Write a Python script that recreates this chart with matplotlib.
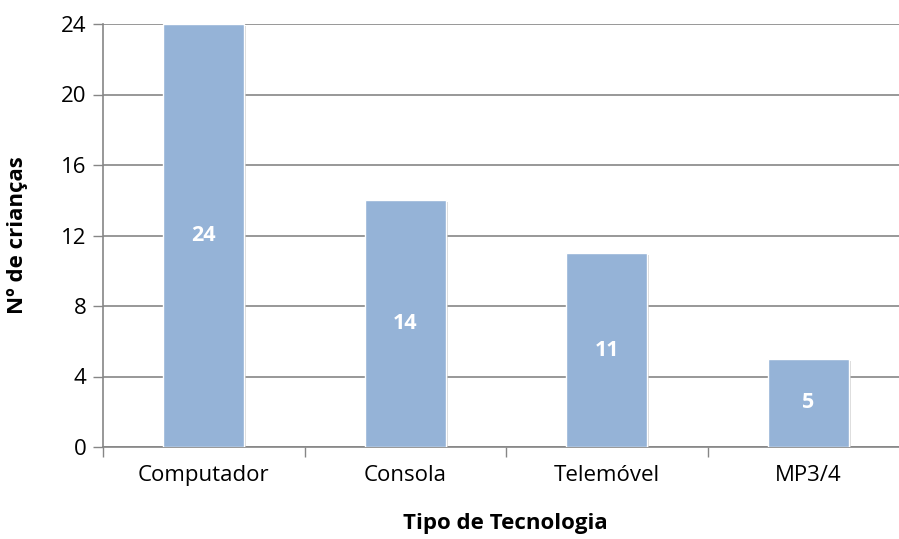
import matplotlib
matplotlib.use("Agg")
import matplotlib.pyplot as plt
import matplotlib.patheffects as pe
import numpy as np

categorias = ["Computador", "Consola", "Telemóvel", "MP3/4"]
criancas = [24, 14, 11, 5]
y_ticks = [0, 4, 8, 12, 16, 20, 24]

plt.rcParams['font.family'] = ['Open Sans', 'DejaVu Sans']

fig = plt.figure(figsize=(8.99, 5.39), dpi=100)
ax = fig.add_axes([103 / 899, 1 - 447 / 539, (909 - 103) / 899, (447 - 24) / 539])

x = np.arange(len(categorias))
bars = ax.bar(x, criancas, width=0.4, color="#95B3D7", edgecolor="white",
              linewidth=1.0, zorder=3)
for b in bars:
    b.set_path_effects([pe.SimplePatchShadow(offset=(1.5, -1.5), shadow_rgbFace="#bbbbbb", alpha=0.6),
                        pe.Normal()])

for xi, v in zip(x, criancas):
    ax.text(xi, v / 2, str(v), ha="center", va="center", color="white",
            fontsize=15.5, fontweight="bold", zorder=4)

ax.set_xlim(-0.5, len(categorias) - 0.5)
ax.set_ylim(0, 24)
ax.set_yticks(y_ticks)
ax.set_yticklabels([str(t) for t in y_ticks], fontsize=16)
ax.set_xticks(x)
ax.set_xticklabels(categorias, fontsize=16)
ax.set_xticks(np.arange(len(categorias) + 1) - 0.5, minor=True)

ax.tick_params(axis="x", which="major", length=0, pad=13)
ax.tick_params(axis="x", which="minor", length=7, width=1, color="#868686", direction="out")
ax.tick_params(axis="y", length=7, width=1, color="#868686", direction="out", pad=5)

ax.yaxis.grid(True, color="#868686", linewidth=1.2, zorder=0)
ax.set_axisbelow(True)
for s in ["top", "right"]:
    ax.spines[s].set_visible(False)
for s in ["left", "bottom"]:
    ax.spines[s].set_color("#868686")
    ax.spines[s].set_linewidth(1.2)

fig.text(505 / 899, 1 - 523 / 539, "Tipo de Tecnologia", ha="center", va="center",
         fontsize=16, fontweight="bold")
fig.text(18 / 899, 1 - 235 / 539, "Nº de crianças", ha="center", va="center",
         rotation=90, fontsize=16, fontweight="bold")

fig.savefig("out.png", dpi=100)
